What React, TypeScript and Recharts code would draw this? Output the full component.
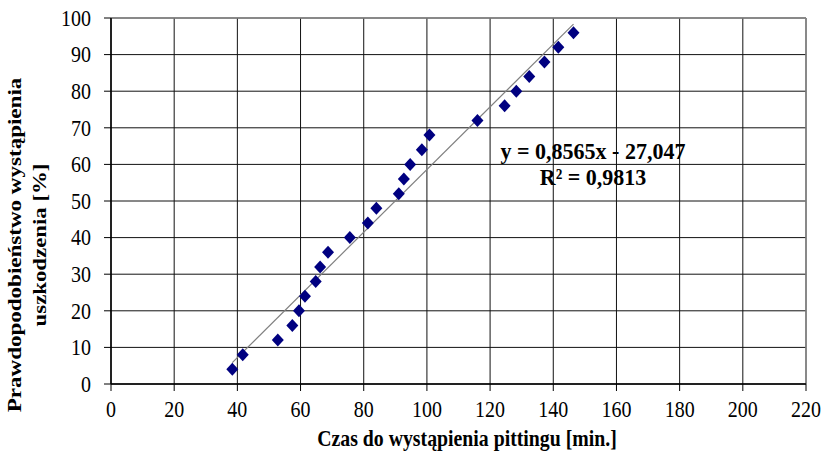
import React from 'react';
import { ScatterChart, Scatter, XAxis, YAxis, CartesianGrid, ReferenceLine } from 'recharts';

const xValues = [38.4, 41.7, 52.8, 57.4, 59.5, 61.4, 64.8, 66.2, 68.7, 75.6, 81.3, 84.0, 91.1, 92.7, 94.7, 98.4, 100.8, 116.0, 124.6, 128.3, 132.4, 137.2, 141.6, 146.4];
const yValues = [4, 8, 12, 16, 20, 24, 28, 32, 36, 40, 44, 48, 52, 56, 60, 64, 68, 72, 76, 80, 84, 88, 92, 96];
const xTicks = [0, 20, 40, 60, 80, 100, 120, 140, 160, 180, 200, 220];
const yTicks = [0, 10, 20, 30, 40, 50, 60, 70, 80, 90, 100];
const slope = 0.8565;
const intercept = -27.047;
const equationText = 'y = 0,8565x - 27,047';
const r2Text = 'R² = 0,9813';
const xTitle = 'Czas do wystąpienia pittingu [min.]';
const yTitle1 = 'Prawdopodobieństwo wystąpienia';
const yTitle2 = 'uszkodzenia [%]';

const points = xValues.map((x, i) => ({ x, y: yValues[i] }));
const xMin = Math.min(...xValues);
const xMax = Math.max(...xValues);
const trend = [
  { x: xMin, y: slope * xMin + intercept },
  { x: xMax, y: slope * xMax + intercept },
];

const SY = 1.17;
const serif = "'Liberation Serif', 'Times New Roman', serif";

const Diamond = (props: any) => {
  const { cx, cy } = props;
  if (cx == null || cy == null) return null;
  const w = 6;
  const h = 6.5;
  return (
    <polygon
      points={`${cx},${cy - h} ${cx + w},${cy} ${cx},${cy + h} ${cx - w},${cy}`}
      fill="#000080"
    />
  );
};

const NoShape = () => null;

const XTick = (props: any) => {
  const { x, payload } = props;
  return (
    <text
      transform={`translate(${x},417) scale(1,${SY})`}
      textAnchor="middle"
      fontFamily={serif}
      fontSize={20}
      fill="#000"
    >
      {payload.value}
    </text>
  );
};

const YTick = (props: any) => {
  const { y, payload } = props;
  return (
    <text
      transform={`translate(91,${y + 7.7}) scale(1,${SY})`}
      textAnchor="end"
      fontFamily={serif}
      fontSize={20}
      fill="#000"
    >
      {payload.value}
    </text>
  );
};

export default function App() {
  return (
    <div style={{ position: 'relative', width: 826, height: 457, background: '#fff' }}>
      <style>{'body{margin:0}'}</style>
      <ScatterChart width={826} height={457} margin={{ top: 18, right: 20, bottom: 0, left: 0 }}>
        <CartesianGrid stroke="#111" strokeWidth={1} />
        <XAxis
          type="number"
          dataKey="x"
          domain={[0, 220]}
          ticks={xTicks}
          interval={0}
          height={73}
          tick={<XTick />}
          tickSize={7}
          axisLine={{ stroke: '#000', strokeWidth: 1.5 }}
          tickLine={{ stroke: '#000' }}
        />
        <YAxis
          type="number"
          dataKey="y"
          domain={[0, 100]}
          ticks={yTicks}
          interval={0}
          width={111}
          tick={<YTick />}
          tickSize={7}
          axisLine={{ stroke: '#000', strokeWidth: 1.5 }}
          tickLine={{ stroke: '#000' }}
        />
        <ReferenceLine y={100} stroke="#8a8a8a" strokeWidth={1.5} />
        <ReferenceLine x={220} stroke="#8a8a8a" strokeWidth={1.5} />
        <Scatter
          data={trend}
          line={{ stroke: '#808080', strokeWidth: 1.2 }}
          shape={<NoShape />}
          isAnimationActive={false}
        />
        <Scatter data={points} shape={<Diamond />} isAnimationActive={false} />
      </ScatterChart>
      <svg
        width={826}
        height={457}
        style={{ position: 'absolute', left: 0, top: 0, pointerEvents: 'none' }}
      >
        <g fontFamily={serif} fontWeight="bold" fill="#000">
          <text transform={`translate(467,446) scale(1,${SY})`} textAnchor="middle" fontSize={19.8}>
            {xTitle}
          </text>
          <text transform={`translate(21,245) scale(1,${SY}) rotate(-90)`} textAnchor="middle" fontSize={19.7}>
            {yTitle1}
          </text>
          <text transform={`translate(46,245) scale(1,${SY}) rotate(-90)`} textAnchor="middle" fontSize={19.5}>
            {yTitle2}
          </text>
          <text transform="translate(593,159) scale(1,1.05)" textAnchor="middle" fontSize={22}>
            {equationText}
          </text>
          <text transform="translate(593,185) scale(1,1.05)" textAnchor="middle" fontSize={22}>
            {r2Text}
          </text>
        </g>
      </svg>
    </div>
  );
}
